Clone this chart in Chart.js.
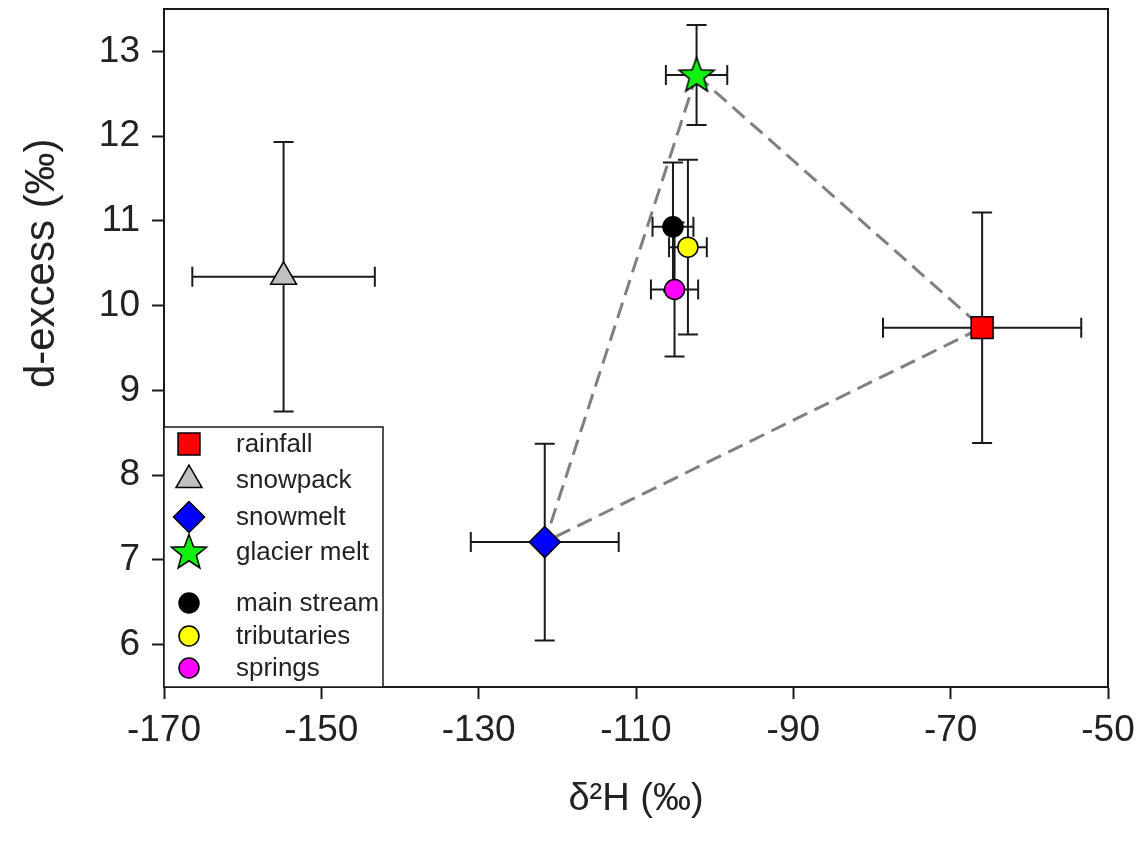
<!DOCTYPE html>
<html>
<head>
<meta charset="utf-8">
<title>d-excess vs d2H</title>
<script src="https://cdn.jsdelivr.net/npm/chart.js@4.4.1/dist/chart.umd.min.js"></script>
<style>
  body { margin: 0; background: #fff; }
  #Chart { display: block; }
</style>
</head>
<body>
<canvas id="Chart" width="1146" height="846"></canvas>
<script>
// group means and standard deviations
const groups = ['rainfall', 'snowpack', 'snowmelt', 'glacier melt', 'main stream', 'tributaries', 'springs'];
const d2H = [-66.0, -154.8, -121.6, -102.3, -105.3, -103.4, -105.1];
const dExcess = [9.74, 10.34, 7.21, 12.72, 10.93, 10.69, 10.19];
const d2HErr = [12.6, 11.6, 9.4, 3.9, 2.6, 2.4, 3.0];
const dExcessErr = [1.36, 1.59, 1.16, 0.59, 0.76, 1.03, 0.79];

// end-members joined by the mixing triangle
const mixOrder = [3, 0, 2, 3];

const xTicks = [-170, -150, -130, -110, -90, -70, -50];
const yTicks = [6, 7, 8, 9, 10, 11, 12, 13];

const FONT = '"Liberation Sans", Arial, sans-serif';
const INK = '#1a1a1a';

// filled five point star, chart.js only has the line star
function makeStar(size, fill) {
  const c = document.createElement('canvas');
  c.width = size;
  c.height = size;
  const g = c.getContext('2d');
  const cx = size / 2, cy = size / 2 + 1;
  const outer = size / 2 - 1.5, inner = outer * 0.42;
  g.beginPath();
  for (let i = 0; i < 10; i++) {
    const r = i % 2 === 0 ? outer : inner;
    const a = -Math.PI / 2 + i * Math.PI / 5;
    const px = cx + r * Math.cos(a), py = cy + r * Math.sin(a);
    if (i === 0) g.moveTo(px, py); else g.lineTo(px, py);
  }
  g.closePath();
  g.fillStyle = fill;
  g.fill();
  g.lineWidth = 1.5;
  g.strokeStyle = '#000';
  g.stroke();
  return c;
}

const starImg = makeStar(40, '#12f012');

const styles = [
  { pointStyle: 'rect', radius: 15.5, color: '#ff0000' },
  { pointStyle: 'triangle', radius: 15, color: '#c0c0c0' },
  { pointStyle: 'rectRot', radius: 15.5, color: '#0000ff' },
  { pointStyle: starImg, radius: 18, color: '#12f012' },
  { pointStyle: 'circle', radius: 10, color: '#000000' },
  { pointStyle: 'circle', radius: 10, color: '#ffff00' },
  { pointStyle: 'circle', radius: 10, color: '#ff00ff' }
];

const markerSets = groups.map(function (name, i) {
  return {
    label: name,
    data: [{ x: d2H[i], y: dExcess[i] }],
    pointStyle: styles[i].pointStyle,
    pointRadius: styles[i].radius,
    pointHoverRadius: styles[i].radius,
    backgroundColor: styles[i].color,
    borderColor: '#000',
    borderWidth: 1.5,
    order: 1
  };
});

const mixLine = {
  label: 'mixing',
  data: mixOrder.map(i => ({ x: d2H[i], y: dExcess[i] })),
  showLine: true,
  borderColor: '#808080',
  borderWidth: 3,
  borderDash: [16, 8],
  pointRadius: 0,
  order: 10
};

// error bars, drawn just after the dashed triangle so markers sit on top
const errorBars = {
  id: 'errorBars',
  afterDatasetDraw(chart, args) {
    if (chart.data.datasets[args.index] !== mixLine) return;
    const { ctx, scales: { x, y } } = chart;
    const cap = 10;
    ctx.save();
    ctx.strokeStyle = INK;
    ctx.lineWidth = 2;
    for (let i = 0; i < groups.length; i++) {
      const px = x.getPixelForValue(d2H[i]);
      const py = y.getPixelForValue(dExcess[i]);
      const x0 = x.getPixelForValue(d2H[i] - d2HErr[i]);
      const x1 = x.getPixelForValue(d2H[i] + d2HErr[i]);
      const y0 = y.getPixelForValue(dExcess[i] + dExcessErr[i]);
      const y1 = y.getPixelForValue(dExcess[i] - dExcessErr[i]);
      ctx.beginPath();
      ctx.moveTo(x0, py); ctx.lineTo(x1, py);
      ctx.moveTo(x0, py - cap); ctx.lineTo(x0, py + cap);
      ctx.moveTo(x1, py - cap); ctx.lineTo(x1, py + cap);
      ctx.moveTo(px, y0); ctx.lineTo(px, y1);
      ctx.moveTo(px - cap, y0); ctx.lineTo(px + cap, y0);
      ctx.moveTo(px - cap, y1); ctx.lineTo(px + cap, y1);
      ctx.stroke();
    }
    ctx.restore();
  }
};

// white page, top/right edges of the frame, y axis title sitting a bit high
const frame = {
  id: 'frame',
  beforeDraw(chart) {
    const ctx = chart.ctx;
    ctx.save();
    ctx.fillStyle = '#fff';
    ctx.fillRect(0, 0, chart.width, chart.height);
    ctx.restore();
  },
  afterDatasetsDraw(chart) {
    const { ctx, chartArea: a } = chart;
    ctx.save();
    ctx.strokeStyle = INK;
    ctx.lineWidth = 2;
    ctx.beginPath();
    ctx.moveTo(a.left, a.top);
    ctx.lineTo(a.right, a.top);
    ctx.lineTo(a.right, a.bottom);
    ctx.stroke();

    ctx.translate(42, chart.scales.y.getPixelForValue(10.5));
    ctx.rotate(-Math.PI / 2);
    ctx.font = '42px ' + FONT;
    ctx.fillStyle = '#222';
    ctx.textAlign = 'center';
    ctx.textBaseline = 'middle';
    ctx.fillText('d-excess (‰)', 0, 0);
    ctx.restore();
  }
};

// boxed legend in the lower left corner of the plot
const boxLegend = {
  id: 'boxLegend',
  afterDatasetsDraw(chart) {
    const { ctx, chartArea: a } = chart;
    const boxW = 219, boxH = 260;
    const left = a.left, top = a.bottom - boxH;
    const rows = [17, 53, 90, 125, 176, 209, 241];
    ctx.save();
    ctx.fillStyle = '#fff';
    ctx.fillRect(left, top, boxW, boxH);
    ctx.strokeStyle = INK;
    ctx.lineWidth = 1.5;
    ctx.strokeRect(left, top, boxW, boxH);
    ctx.font = '26px ' + FONT;
    ctx.textBaseline = 'middle';
    groups.forEach(function (name, i) {
      const ds = chart.data.datasets[i];
      const cy = top + rows[i];
      ctx.fillStyle = ds.backgroundColor;
      ctx.strokeStyle = '#000';
      ctx.lineWidth = 1.5;
      Chart.helpers.drawPoint(ctx, {
        pointStyle: ds.pointStyle,
        radius: ds.pointRadius,
        rotation: 0,
        borderWidth: 1.5
      }, left + 25, cy);
      ctx.fillStyle = '#222';
      ctx.fillText(name, left + 72, cy + 1);
    });
    ctx.restore();
  }
};

var ctx = document.getElementById('Chart').getContext('2d');
var myChart = new Chart(ctx, {
  type: 'scatter',
  data: {
    datasets: markerSets.concat([mixLine])
  },
  options: {
    responsive: false,
    animation: false,
    layout: { autoPadding: false, padding: { top: 9, right: 38, left: 0, bottom: 0 } },
    plugins: {
      legend: { display: false },
      tooltip: { enabled: false }
    },
    scales: {
      x: {
        type: 'linear',
        position: 'bottom',
        min: -170,
        max: -50,
        afterBuildTicks: s => { s.ticks = xTicks.map(v => ({ value: v })); },
        afterFit: s => { s.height = 159; s.paddingLeft = 0; s.paddingRight = 0; },
        grid: { drawOnChartArea: false, drawTicks: true, tickLength: 12, tickWidth: 2, tickColor: INK },
        border: { display: true, color: INK, width: 2 },
        ticks: { color: '#222', padding: 10, maxRotation: 0, font: { family: FONT, size: 37 } },
        title: {
          display: true,
          text: 'δ²H (‰)',
          color: '#222',
          font: { family: FONT, size: 38, lineHeight: 1 },
          padding: { top: 0, bottom: 27 }
        }
      },
      y: {
        type: 'linear',
        min: 5.5,
        max: 13.5,
        afterBuildTicks: s => { s.ticks = yTicks.map(v => ({ value: v })); },
        afterFit: s => { s.width = 164; s.paddingTop = 0; s.paddingBottom = 0; },
        grid: { drawOnChartArea: false, drawTicks: true, tickLength: 12, tickWidth: 2, tickColor: INK },
        border: { display: true, color: INK, width: 2 },
        ticks: { color: '#222', padding: 12, font: { family: FONT, size: 37 } },
        title: { display: false }
      }
    }
  },
  plugins: [frame, errorBars, boxLegend]
});
</script>
</body>
</html>
